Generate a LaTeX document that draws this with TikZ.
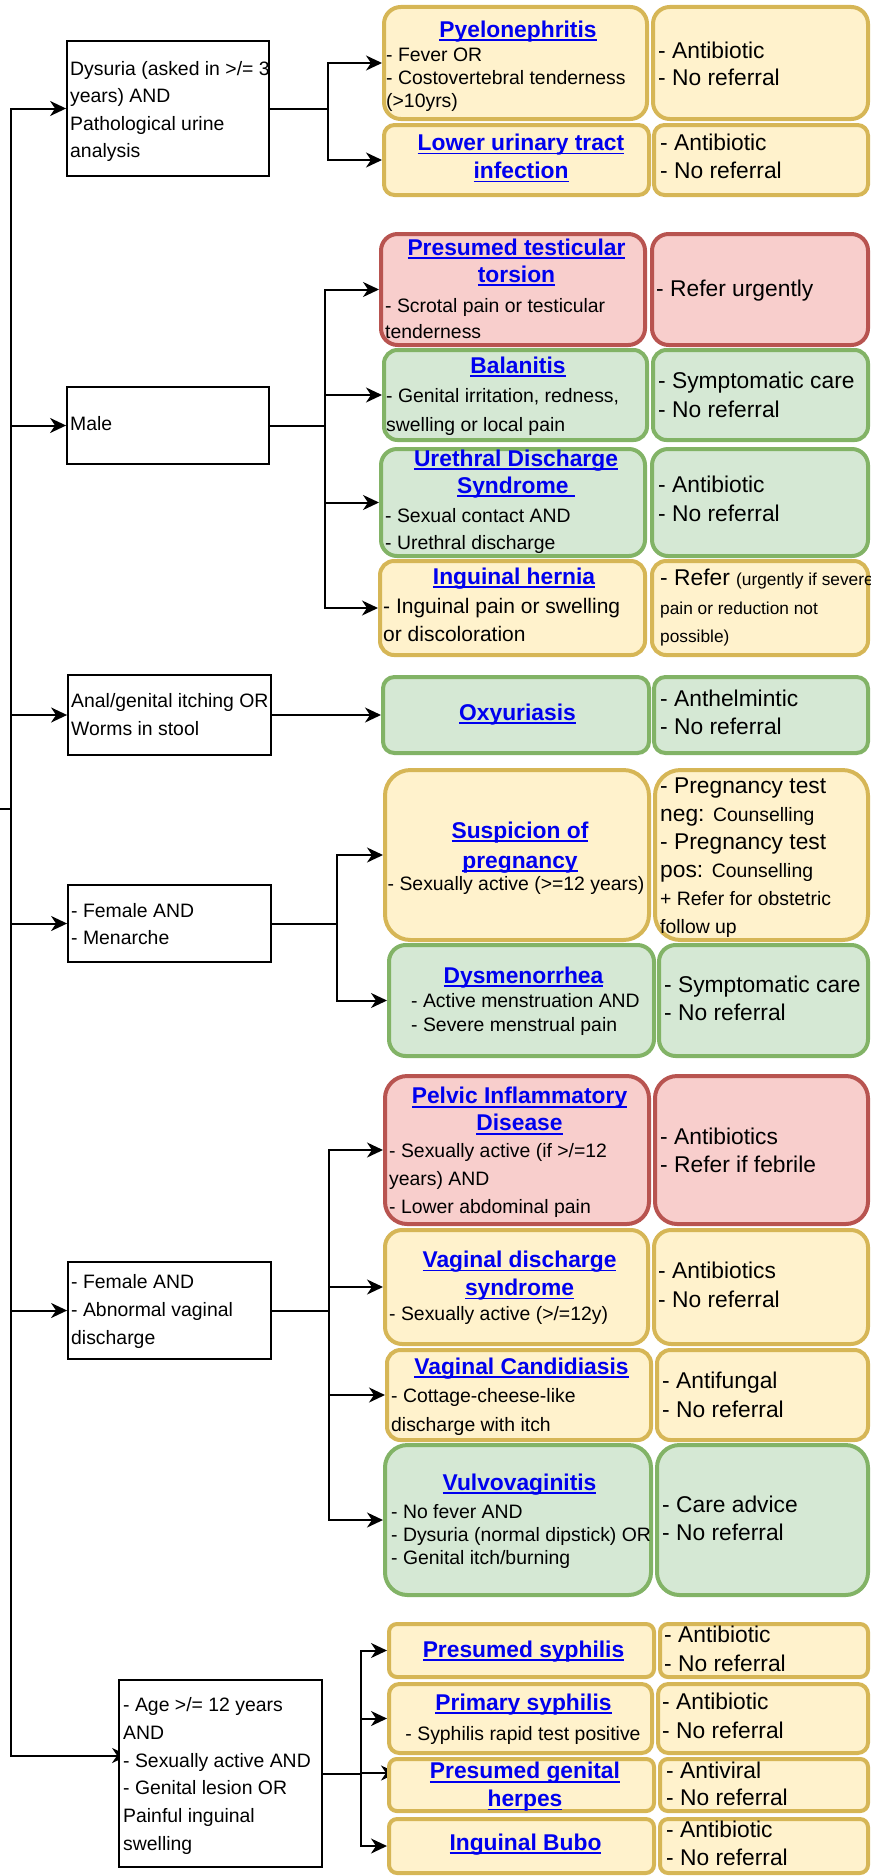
\documentclass[tikz,border=0pt]{standalone}
\usepackage{fontspec}
\setmainfont{Liberation Sans}
\usetikzlibrary{arrows.meta}
\pgfdeclarelayer{background}
\pgfsetlayers{background,main}
\definecolor{yfill}{HTML}{FFF2CC}\definecolor{ystroke}{HTML}{D6B656}
\definecolor{rfill}{HTML}{F8CECC}\definecolor{rstroke}{HTML}{B85450}
\definecolor{gfill}{HTML}{D5E8D4}\definecolor{gstroke}{HTML}{82B366}
\definecolor{linkblue}{HTML}{0000EE}
\newsavebox\ulbox
\newcommand\uln[1]{\sbox\ulbox{#1}\rlap{\rule[-0.17em]{\wd\ulbox}{0.085em}}\usebox\ulbox}
\newcommand\smB{\fontsize{19.4}{\the\baselineskip}\selectfont}
\newcommand\smS{\fontsize{17.3}{\the\baselineskip}\selectfont}
\newcommand\mkbox[6]{%
  \pgfmathsetmacro\bw{#5-#3}%
  \pgfmathsetmacro\bh{#6-#4}%
  \pgfmathsetmacro\brr{0.15*min(\bw,\bh)}%
  \node[#1, minimum width=\bw pt, minimum height=\bh pt, rounded corners=\brr pt] (#2) at ({(#3+#5)/2},{(#4+#6)/2}) {};}
\newcommand\mklbox[5]{%
  \pgfmathsetmacro\bw{#4-#2}%
  \pgfmathsetmacro\bh{#5-#3}%
  \node[lbox, minimum width=\bw pt, minimum height=\bh pt] (#1) at ({(#2+#4)/2},{(#3+#5)/2}) {};}
\tikzset{
  ybox/.style={draw=ystroke, fill=yfill, line width=4pt, inner sep=0pt},
  rbox/.style={draw=rstroke, fill=rfill, line width=4pt, inner sep=0pt},
  gbox/.style={draw=gstroke, fill=gfill, line width=4pt, inner sep=0pt},
  lbox/.style={draw=black, fill=white, line width=1.8pt, inner sep=0pt},
  ttl/.style={text=linkblue, font=\fontsize{22.8}{#1}\selectfont\bfseries, align=center, inner sep=0pt, anchor=center},
  ttl/.default=27,
  bd/.style={font=\fontsize{19.4}{#1}\selectfont, align=left, inner sep=0pt, anchor=west},
  bd/.default=27,
  bdc/.style={font=\fontsize{19.4}{#1}\selectfont, align=center, inner sep=0pt, anchor=center},
  bdc/.default=27,
  rt/.style={font=\fontsize{22.8}{#1}\selectfont, align=left, inner sep=0pt, anchor=west},
  rt/.default=28,
  arr/.style={draw=black, line width=2pt, -{Stealth[length=16pt,width=15pt,inset=5pt]}},
}
\begin{document}
\begin{tikzpicture}[x=1pt,y=-1pt]
\useasboundingbox (0,0) rectangle (870,1876);
\coordinate (root) at (0,809);
\coordinate (tr) at (11,809);
% left condition boxes
\mklbox{dys}{67}{41}{269}{176}
\mklbox{male}{67}{387}{269}{464}
\mklbox{anal}{68}{675}{271}{755}
\mklbox{fmen}{68}{885}{271}{962}
\mklbox{fabn}{68}{1262}{271}{1359}
\mklbox{age}{119}{1680}{322}{1867}
% diagnosis boxes
\mkbox{ybox}{pyelo}{384}{7}{647}{119}
\mkbox{ybox}{luti}{384}{125}{649}{195}
\mkbox{rbox}{tors}{381}{234}{645}{345}
\mkbox{gbox}{balan}{384}{350}{647}{440}
\mkbox{gbox}{ureth}{381}{449}{645}{556}
\mkbox{ybox}{hern}{380}{561}{645}{655}
\mkbox{gbox}{oxy}{383}{677}{649}{753}
\mkbox{ybox}{preg}{385}{770}{649}{940}
\mkbox{gbox}{dysm}{389}{945}{654}{1056}
\mkbox{rbox}{pid}{385}{1076}{649}{1224}
\mkbox{ybox}{vds}{385}{1230}{648}{1344}
\mkbox{ybox}{cand}{387}{1350}{651}{1440}
\mkbox{gbox}{vulvo}{385}{1445}{651}{1595}
\mkbox{ybox}{psyph}{389}{1624}{654}{1677}
\mkbox{ybox}{prim}{389}{1684}{652}{1753}
\mkbox{ybox}{herp}{389}{1759}{654}{1811}
\mkbox{ybox}{bubo}{389}{1819}{654}{1873}
% management boxes
\mkbox{ybox}{pyeloR}{653}{7}{868}{119}
\mkbox{ybox}{lutiR}{654}{125}{868}{195}
\mkbox{rbox}{torsR}{652}{234}{868}{345}
\mkbox{gbox}{balanR}{653}{350}{868}{440}
\mkbox{gbox}{urethR}{652}{449}{868}{556}
\mkbox{ybox}{hernR}{652}{561}{868}{655}
\mkbox{gbox}{oxyR}{654}{677}{868}{753}
\mkbox{ybox}{pregR}{655}{770}{868}{940}
\mkbox{gbox}{dysmR}{659}{945}{868}{1056}
\mkbox{rbox}{pidR}{655}{1076}{868}{1224}
\mkbox{ybox}{vdsR}{654}{1230}{868}{1344}
\mkbox{ybox}{candR}{657}{1350}{868}{1440}
\mkbox{gbox}{vulvoR}{657}{1445}{868}{1595}
\mkbox{ybox}{psyphR}{660}{1624}{868}{1677}
\mkbox{ybox}{primR}{658}{1684}{868}{1753}
\mkbox{ybox}{herpR}{660}{1759}{868}{1811}
\mkbox{ybox}{buboR}{660}{1819}{868}{1873}
% connectors
\begin{pgfonlayer}{background}
\draw[arr] (root) -- (tr) |- (dys.west);
\draw[arr] (root) -- (tr) |- (male.west);
\draw[arr] (root) -- (tr) |- (anal.west);
\draw[arr] (root) -- (tr) |- (fmen.west);
\draw[arr] (root) -- (tr) |- (fabn.west);
\draw[arr] (root) -- (tr) |- ([xshift=10pt,yshift=18pt]age.west);
\draw[arr] (dys.east) -- ++(58,0) |- (pyelo.west);
\draw[arr] (dys.east) -- ++(58,0) |- (luti.west);
\draw[arr] (male.east) -- ++(55,0) |- (tors.west);
\draw[arr] (male.east) -- ++(55,0) |- (balan.west);
\draw[arr] (male.east) -- ++(55,0) |- (ureth.west);
\draw[arr] (male.east) -- ++(55,0) |- (hern.west);
\draw[arr] (anal.east) -- (oxy.west);
\draw[arr] (fmen.east) -- ++(65,0) |- (preg.west);
\draw[arr] (fmen.east) -- ++(65,0) |- (dysm.west);
\draw[arr] (fabn.east) -- ++(57,0) |- (pid.west);
\draw[arr] (fabn.east) -- ++(57,0) |- (vds.west);
\draw[arr] (fabn.east) -- ++(57,0) |- (cand.west);
\draw[arr] (fabn.east) -- ++(57,0) |- (vulvo.west);
\draw[arr] (age.east) -- ++(38,0) |- (psyph.west);
\draw[arr] (age.east) -- ++(38,0) |- (prim.west);
\draw[arr] (age.east) -- ++(38,0) |- ([xshift=10pt,yshift=12pt]herp.west);
\draw[arr] (age.east) -- ++(38,0) |- (bubo.west);
\end{pgfonlayer}
% left texts
\node[bd=27.5] (dysT) at (70,111) {\strut Dysuria (asked in >/= 3\\\strut years) AND\\\strut Pathological urine\\\strut analysis};
\node[bd] (maleT) at (70,425) {\strut Male};
\node[bd=28] (analT) at (71,716) {\strut Anal/genital itching OR\\\strut Worms in stool};
\node[bd=27] (fmenT) at (71,925.5) {\strut - Female AND\\\strut - Menarche};
\node[bd=28] (fabnT) at (71,1311) {\strut - Female AND\\\strut - Abnormal vaginal\\\strut discharge};
\node[bd=27.8] (ageT) at (123,1775.5) {\strut - Age >/= 12 years\\\strut AND\\\strut - Sexually active AND\\\strut - Genital lesion OR\\\strut Painful inguinal\\\strut swelling};
% titles
\node[ttl] (pyeloH) at (518,32) {\strut\uln{Pyelonephritis}};
\node[ttl=28] (lutiH) at (521,159) {\strut\uln{Lower urinary tract}\\\strut\uln{infection}};
\node[ttl=27] (torsH) at (516.5,263.5) {\strut\uln{Presumed testicular}\\\strut\uln{torsion}};
\node[ttl] (balanH) at (518,368) {\strut\uln{Balanitis}};
\node[ttl=27] (urethH) at (516,474.5) {\strut\uln{Urethral Discharge}\\\strut\uln{Syndrome\ }};
\node[ttl] (hernH) at (514,579) {\strut\uln{Inguinal hernia}};
\node[ttl] (oxyH) at (517.5,715) {\strut\uln{Oxyuriasis}};
\node[ttl=30] (pregH) at (520,847) {\strut\uln{Suspicion of}\\\strut\uln{pregnancy}};
\node[ttl] (dysmH) at (523.5,978) {\strut\uln{Dysmenorrhea}};
\node[ttl=27] (pidH) at (519.5,1112) {\strut\uln{Pelvic Inflammatory}\\\strut\uln{Disease}};
\node[ttl=28] (vdsH) at (519.5,1276) {\strut\uln{Vaginal discharge}\\\strut\uln{syndrome}};
\node[ttl] (candH) at (521.5,1369) {\strut\uln{Vaginal Candidiasis}};
\node[ttl] (vulvoH) at (519.5,1485) {\strut\uln{Vulvovaginitis}};
\node[ttl] (psyphH) at (523.5,1652) {\strut\uln{Presumed syphilis}};
\node[ttl] (primH) at (523.5,1705) {\strut\uln{Primary syphilis}};
\node[ttl=28] (herpH) at (525,1787) {\strut\uln{Presumed genital}\\\strut\uln{herpes}};
\node[ttl] (buboH) at (525.5,1845) {\strut\uln{Inguinal Bubo}};
% criteria texts
\node[bd=23] (pyeloB) at (386,80) {\strut - Fever OR\\\strut - Costovertebral tenderness\\\strut (>10yrs)};
\node[bd=26.5] (torsB) at (385,320) {\strut - Scrotal pain or testicular\\\strut tenderness};
\node[bd=29] (balanB) at (386,411.5) {\strut - Genital irritation, redness,\\\strut swelling or local pain};
\node[bd=27] (urethB) at (385,530.5) {\strut - Sexual contact AND\\\strut - Urethral discharge};
\node[bd=28, font=\fontsize{21}{28}\selectfont] (hernB) at (383,622) {\strut - Inguinal pain or swelling\\\strut or discoloration};
\node[bdc] (pregB) at (516,885) {\strut - Sexually active (>=12 years)};
\node[bd=24] (dysmB) at (411,1015) {\strut - Active menstruation AND\\\strut - Severe menstrual pain};
\node[bd=28] (pidB) at (389,1180.3) {\strut - Sexually active (if >/=12\\\strut years) AND\\\strut - Lower abdominal pain};
\node[bd] (vdsB) at (389,1314.6) {\strut - Sexually active (>/=12y)};
\node[bd=29] (candB) at (391,1411.4) {\strut - Cottage-cheese-like\\\strut discharge with itch};
\node[bd=23.2] (vulvoB) at (391,1536.8) {\strut - No fever AND\\\strut - Dysuria (normal dipstick) OR\\\strut - Genital itch/burning};
\node[bdc] (primB) at (523,1735) {\strut - Syphilis rapid test positive};
% management texts
\node[rt=27] (pyeloM) at (658,66.5) {\strut - Antibiotic\\\strut - No referral};
\node[rt=28] (lutiM) at (660,159) {\strut - Antibiotic\\\strut - No referral};
\node[rt] (torsM) at (656,291) {\strut - Refer urgently};
\node[rt=29] (balanM) at (658,397.5) {\strut - Symptomatic care\\\strut - No referral};
\node[rt=29] (urethM) at (658,501.5) {\strut - Antibiotic\\\strut - No referral};
\node[rt=28.5] (hernM) at (660,608.5) {\strut - Refer {\smS (urgently if severe}\\\strut{\smS pain or reduction not}\\\strut{\smS possible)}};
\node[rt=28] (oxyM) at (660,715) {\strut - Anthelmintic\\\strut - No referral};
\node[rt=28] (pregM) at (660,857.5) {\strut - Pregnancy test\\\strut neg: {\smB Counselling}\\\strut - Pregnancy test\\\strut pos: {\smB Counselling}\\\strut{\smB + Refer for obstetric}\\\strut{\smB follow up}};
\node[rt=28] (dysmM) at (664,1001) {\strut - Symptomatic care\\\strut - No referral};
\node[rt=28.5] (pidM) at (660,1153) {\strut - Antibiotics\\\strut - Refer if febrile};
\node[rt=29] (vdsM) at (658,1287) {\strut - Antibiotics\\\strut - No referral};
\node[rt=29] (candM) at (662,1397.4) {\strut - Antifungal\\\strut - No referral};
\node[rt=28] (vulvoM) at (662,1521) {\strut - Care advice\\\strut - No referral};
\node[rt=29] (psyphM) at (664,1651.5) {\strut - Antibiotic\\\strut - No referral};
\node[rt=29] (primM) at (662,1718.5) {\strut - Antibiotic\\\strut - No referral};
\node[rt=27] (herpM) at (666,1786.5) {\strut - Antiviral\\\strut - No referral};
\node[rt=28] (buboM) at (666,1846) {\strut - Antibiotic\\\strut - No referral};
\end{tikzpicture}
\end{document}
